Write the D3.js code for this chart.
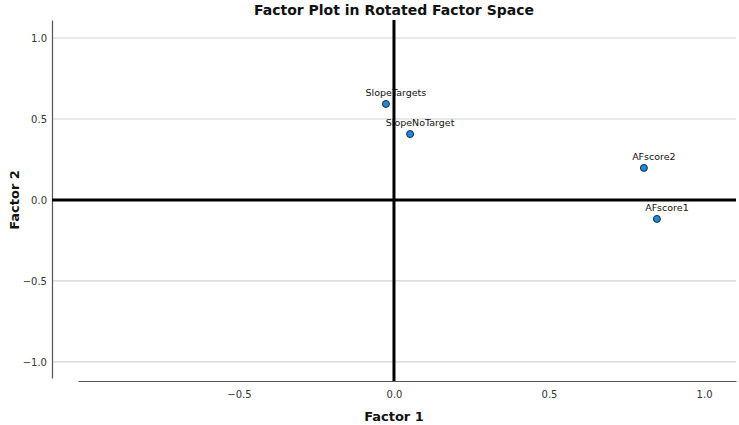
<!DOCTYPE html>
<html><head><meta charset="utf-8">
<script src="https://cdn.jsdelivr.net/npm/d3@7"></script>
<style>body{margin:0;background:#fff}svg{display:block}</style>
</head><body>
<svg id="c" width="739" height="425"></svg>
<script>
const labels = ["SlopeTargets", "SlopeNoTarget", "AFscore2", "AFscore1"];
const factor1 = [-0.026, 0.052, 0.806, 0.848];
const factor2 = [0.593, 0.407, 0.198, -0.117];
const xTicks = [-0.5, 0.0, 0.5, 1.0];
const yTicks = [-1.0, -0.5, 0.0, 0.5, 1.0];

const svg = d3.select("#c");
const font = "'DejaVu Sans', sans-serif";
const x = d3.scaleLinear().domain([-1.019, 1.103]).range([78, 736]);
const y = d3.scaleLinear().domain([-1.099, 1.111]).range([378, 20]);

// gridlines
svg.append("g").selectAll("line").data(yTicks).join("line")
  .attr("x1", 52).attr("x2", 736)
  .attr("y1", d => y(d)).attr("y2", d => y(d))
  .attr("stroke", "#d4d4d4").attr("stroke-width", 1.2);

// y axis
const yAxis = svg.append("g").attr("transform", "translate(52,0)")
  .call(d3.axisLeft(y).tickValues(yTicks).tickFormat(d3.format(".1f")).tickSize(0).tickPadding(5));
yAxis.select(".domain").attr("stroke", "#555").attr("stroke-width", 1.2);
yAxis.selectAll("text").attr("font-family", font).attr("font-size", 10).attr("fill", "#333");

// x axis
const xAxis = svg.append("g").attr("transform", "translate(0,381)")
  .call(d3.axisBottom(x).tickValues(xTicks).tickFormat(d3.format(".1f")).tickSize(0).tickPadding(10));
xAxis.select(".domain").attr("stroke", "#555").attr("stroke-width", 1.2);
xAxis.selectAll("text").attr("font-family", font).attr("font-size", 10).attr("fill", "#333");

// zero reference lines
svg.append("line").attr("x1", 52).attr("x2", 736).attr("y1", y(0)).attr("y2", y(0))
  .attr("stroke", "#000").attr("stroke-width", 3);
svg.append("line").attr("x1", x(0)).attr("x2", x(0)).attr("y1", 20).attr("y2", 381)
  .attr("stroke", "#000").attr("stroke-width", 3);

// points
const pts = labels.map((l, i) => ({l, a: factor1[i], b: factor2[i]}));
svg.append("g").selectAll("circle").data(pts).join("circle")
  .attr("cx", d => x(d.a)).attr("cy", d => y(d.b)).attr("r", 3.5)
  .attr("fill", "#1f88d9").attr("stroke", "#1a2a40").attr("stroke-width", 1);
svg.append("g").selectAll("text").data(pts).join("text")
  .attr("x", d => x(d.a) + 10).attr("y", d => y(d.b) - 8)
  .attr("text-anchor", "middle").attr("font-family", font).attr("font-size", 9.5).attr("fill", "#111")
  .text(d => d.l);

// titles
svg.append("text").attr("x", 394).attr("y", 15).attr("text-anchor", "middle")
  .attr("font-family", font).attr("font-weight", "bold").attr("font-size", 14).attr("fill", "#111")
  .text("Factor Plot in Rotated Factor Space");
svg.append("text").attr("x", 394).attr("y", 421).attr("text-anchor", "middle")
  .attr("font-family", font).attr("font-weight", "bold").attr("font-size", 13).attr("fill", "#111")
  .text("Factor 1");
svg.append("text").attr("transform", "translate(19,200) rotate(-90)").attr("text-anchor", "middle")
  .attr("font-family", font).attr("font-weight", "bold").attr("font-size", 13).attr("fill", "#111")
  .text("Factor 2");
</script>
</body></html>
